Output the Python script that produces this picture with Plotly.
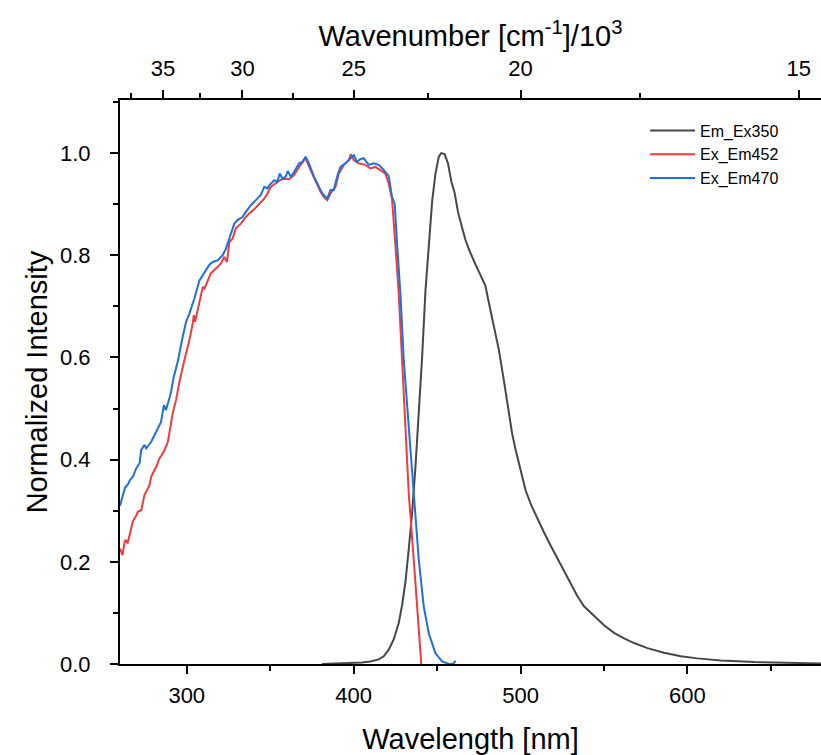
import plotly.graph_objects as go

# ---- data ----
em_wl = [381, 390, 400, 405, 410, 415, 418, 421, 424, 427, 429, 431, 433, 435, 437, 439, 441, 443,
         445, 447, 449, 451, 452.5, 454.5, 456.5, 458.5, 460.5, 462.5, 464.5, 467, 469, 471, 473, 475,
         477, 479, 480.5, 482.5, 484.5, 487, 489.5, 492, 495, 497, 500, 503, 506.5, 510, 514, 518, 522,
         526, 530, 534, 538, 542, 546, 550, 556, 562, 568, 576, 586, 596, 606, 620, 640, 660, 680]
em_int = [0.0, 0.001, 0.002, 0.003, 0.005, 0.009, 0.015, 0.028, 0.048, 0.08, 0.115, 0.16, 0.225,
          0.295, 0.385, 0.49, 0.6, 0.73, 0.825, 0.905, 0.96, 0.993, 1.0, 0.998, 0.98, 0.945, 0.922,
          0.885, 0.86, 0.83, 0.812, 0.795, 0.782, 0.768, 0.755, 0.74, 0.715, 0.685, 0.655, 0.615,
          0.565, 0.51, 0.45, 0.42, 0.38, 0.34, 0.31, 0.285, 0.258, 0.232, 0.207, 0.185, 0.16, 0.133,
          0.113, 0.1, 0.087, 0.076, 0.061, 0.05, 0.041, 0.031, 0.022, 0.015, 0.011, 0.007, 0.004,
          0.002, 0.001]

ex452_wl = [260, 261.5, 262.8, 263.5, 264.5, 265.8, 267.8, 269.7, 270.7, 272.7, 274.7, 277.7, 278.7,
            281.7, 283.7, 285, 286.7, 288.7, 290.3, 291.6, 293.6, 295.6, 298.6, 301.6, 303.6, 304.2,
            305, 307.6, 309.6, 310.6, 314.5, 317.5, 320.5, 322.5, 324.1, 325.5, 327.5, 329.4, 332.4,
            335.4, 337.4, 340.4, 343.4, 346.4, 348.4, 350.3, 353.3, 357.3, 361.3, 364.3, 367.3, 371.2,
            374.2, 377.2, 380.2, 382.2, 384.2, 386.1, 389.1, 391.1, 394.1, 397.1, 398.3, 400.1, 403,
            407, 410, 413, 416, 419, 421, 423, 425, 427, 429, 431, 433, 436, 438, 440.5]
ex452_int = [0.226, 0.213, 0.239, 0.243, 0.236, 0.256, 0.28, 0.29, 0.298, 0.301, 0.331, 0.35, 0.367,
             0.386, 0.403, 0.409, 0.419, 0.435, 0.464, 0.491, 0.517, 0.552, 0.595, 0.634, 0.667, 0.683,
             0.67, 0.706, 0.738, 0.735, 0.765, 0.774, 0.784, 0.797, 0.787, 0.826, 0.833, 0.853, 0.862,
             0.875, 0.882, 0.89, 0.901, 0.911, 0.921, 0.934, 0.941, 0.95, 0.949, 0.957, 0.973, 0.99,
             0.967, 0.944, 0.924, 0.914, 0.908, 0.921, 0.934, 0.96, 0.977, 0.986, 0.998, 0.986, 0.98,
             0.977, 0.97, 0.973, 0.967, 0.96, 0.94, 0.91, 0.82, 0.725, 0.595, 0.464, 0.334, 0.204,
             0.106, 0.0]

ex470_wl = [260, 261.5, 263, 264.8, 266, 267.8, 269.7, 271.7, 272.7, 274.7, 275.7, 278.7, 280.7, 282.7,
            284.6, 286.3, 287.5, 289.6, 290.6, 292.2, 294.6, 297.6, 299.6, 301.6, 304.6, 307.6, 310.6,
            313.5, 315.5, 318.5, 321.5, 323.5, 325.5, 328.5, 330.4, 333.4, 335.4, 338.4, 341.4, 343.4,
            344.4, 346.4, 348.4, 349.4, 352.4, 354.3, 355.7, 357.3, 359.3, 360.5, 362.3, 364.3, 367.3,
            369.3, 371.2, 373.2, 376.2, 379.2, 381.2, 384.2, 386.1, 388.1, 390.1, 392.1, 395.1, 398.1,
            400.1, 402, 404, 406, 409, 412, 415, 418, 421, 423, 424.6, 426, 428, 430, 433, 436, 439, 442,
            445, 449, 453, 457, 459.5, 461]
ex470_int = [0.31, 0.33, 0.345, 0.352, 0.36, 0.367, 0.383, 0.393, 0.419, 0.429, 0.422, 0.435, 0.448,
             0.461, 0.474, 0.507, 0.497, 0.52, 0.533, 0.562, 0.592, 0.641, 0.67, 0.686, 0.716, 0.751,
             0.765, 0.781, 0.787, 0.79, 0.8, 0.813, 0.833, 0.862, 0.869, 0.875, 0.885, 0.898, 0.908,
             0.914, 0.918, 0.934, 0.931, 0.937, 0.947, 0.944, 0.96, 0.95, 0.954, 0.965, 0.954, 0.963,
             0.98, 0.983, 0.993, 0.98, 0.954, 0.934, 0.921, 0.911, 0.928, 0.928, 0.954, 0.973, 0.98,
             0.99, 0.996, 0.983, 0.988, 0.99, 0.977, 0.98, 0.977, 0.967, 0.955, 0.914, 0.9, 0.823,
             0.725, 0.595, 0.464, 0.334, 0.204, 0.112, 0.06, 0.021, 0.005, 0.0, 0.0, 0.006]

x_major = [300, 400, 500, 600]
wn_major = [35, 30, 25, 20, 15]          # wavenumber / 10^3 cm^-1
wn_minor = [37.5, 32.5, 27.5, 22.5, 17.5]
y_major = [0.0, 0.2, 0.4, 0.6, 0.8, 1.0]

FONT = "Liberation Sans, Arial, sans-serif"
TICK_SIZE = 22
TITLE_SIZE = 29

fig = go.Figure()
fig.add_trace(go.Scatter(x=em_wl, y=em_int, mode="lines", name="Em_Ex350",
                         line=dict(color="#474747", width=2)))
fig.add_trace(go.Scatter(x=ex452_wl, y=ex452_int, mode="lines", name="Ex_Em452",
                         line=dict(color="#F03C3C", width=2)))
fig.add_trace(go.Scatter(x=ex470_wl, y=ex470_int, mode="lines", name="Ex_Em470",
                         line=dict(color="#1E6FE0", width=2)))
# invisible carrier trace for the top axis
fig.add_trace(go.Scatter(x=em_wl, y=em_int, xaxis="x2", mode="lines", opacity=0,
                         line=dict(width=0), showlegend=False, hoverinfo="skip"))

axis_common = dict(showline=True, linecolor="black", linewidth=2, ticks="outside",
                   tickcolor="black", tickwidth=2, ticklen=8, showgrid=False, zeroline=False,
                   tickfont=dict(family=FONT, size=TICK_SIZE, color="black"))

fig.update_layout(
    width=821, height=755,
    margin=dict(l=120, r=0, t=100, b=91),
    plot_bgcolor="white", paper_bgcolor="white",
    font=dict(family=FONT, color="black"),
    showlegend=True,
    legend=dict(x=0.749, y=0.976, xanchor="left", yanchor="top", itemwidth=45,
                bgcolor="rgba(0,0,0,0)", font=dict(family=FONT, size=16, color="black")),
    xaxis=dict(range=[260, 680], tickvals=x_major, **axis_common, ticklabelstandoff=3,
               minor=dict(dtick=50, tick0=250, ticklen=5, tickwidth=2, tickcolor="black", ticks="outside"),
               title=dict(text="Wavelength [nm]", font=dict(family=FONT, size=TITLE_SIZE), standoff=22)),
    xaxis2=dict(range=[260, 680], overlaying="x", side="top", anchor="y",
                tickvals=[1e4 / k for k in wn_major], ticktext=[str(k) for k in wn_major],
                **axis_common, ticklabelstandoff=5,
                minor=dict(tickvals=[1e4 / k for k in wn_minor], ticklen=5, tickwidth=2,
                           tickcolor="black", ticks="outside"),
                title=dict(text="Wavenumber [cm<sup>-1</sup>]/10<sup>3</sup>",
                           font=dict(family=FONT, size=TITLE_SIZE), standoff=1)),
    yaxis=dict(range=[0, 1.104], tickvals=y_major, tickformat=".1f", **axis_common,
               ticklabelstandoff=15,
               minor=dict(dtick=0.1, tick0=0, ticklen=5, tickwidth=2, tickcolor="black", ticks="outside"),
               title=dict(text="Normalized Intensity", font=dict(family=FONT, size=TITLE_SIZE), standoff=4)),
)

fig.write_html("out.html")
